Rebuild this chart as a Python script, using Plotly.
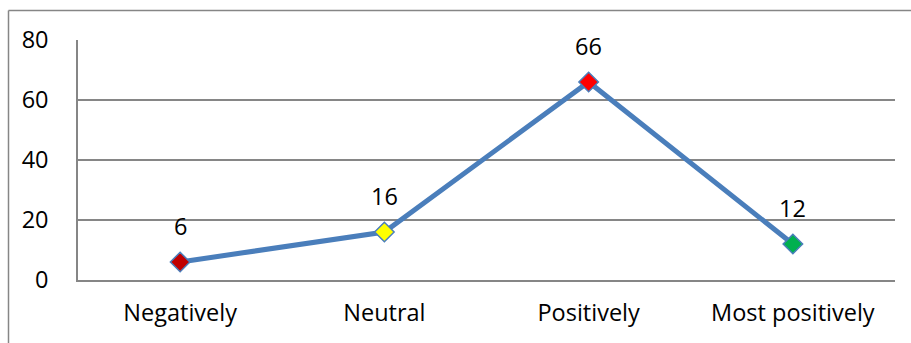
import plotly.graph_objects as go

categories = ["Negatively", "Neutral", "Positively", "Most positively"]
values = [6, 16, 66, 12]
marker_colors = ["#C00000", "#FFFF00", "#FF0000", "#00B050"]
y_ticks = [0, 20, 40, 60, 80]

W, H = 911, 343
ml, mr, mt, mb = 78, 16, 40, 63
pw, ph = W - ml - mr, H - mt - mb

FONT = "Open Sans"
FS = 23.5
fig = go.Figure()
fig.add_trace(go.Scatter(
    x=categories, y=values, mode="lines+markers",
    line=dict(color="#4A7EBB", width=5),
    marker=dict(symbol="diamond", size=15, color=marker_colors,
                line=dict(color="#4A7EBB", width=1.5)),
    hoverinfo="skip", showlegend=False, cliponaxis=False,
))
for c, v in zip(categories, values):
    fig.add_annotation(x=c, y=v, text=str(v), showarrow=False, yshift=36,
                       font=dict(family=FONT, size=FS, color="black"))

# outer chart border (left & top visible)
top_y = (H - 10.5 - mb) / ph
left_x = (8.5 - ml) / pw
fig.add_shape(type="line", xref="paper", yref="paper",
              x0=left_x, x1=(W + 5 - ml) / pw, y0=top_y, y1=top_y,
              line=dict(color="#868686", width=1.5))
fig.add_shape(type="line", xref="paper", yref="paper",
              x0=left_x, x1=left_x, y0=top_y, y1=-(mb + 5) / ph,
              line=dict(color="#868686", width=1.5))

fig.update_layout(
    width=W, height=H,
    margin=dict(l=ml, r=mr, t=mt, b=mb),
    paper_bgcolor="white", plot_bgcolor="white",
    font=dict(family=FONT, size=FS, color="black"),
    xaxis=dict(type="category", range=[-0.5, 3.5], showgrid=False,
               showline=True, linecolor="#868686", linewidth=1.5,
               ticks="", ticklabelstandoff=11, fixedrange=True),
    yaxis=dict(range=[0, 80], tickvals=y_ticks, showgrid=True,
               gridcolor="#868686", gridwidth=1.5, zeroline=False,
               showline=True, linecolor="#868686", linewidth=1.5,
               ticks="", ticklabelstandoff=23, fixedrange=True),
)
fig.write_html("out.html")
